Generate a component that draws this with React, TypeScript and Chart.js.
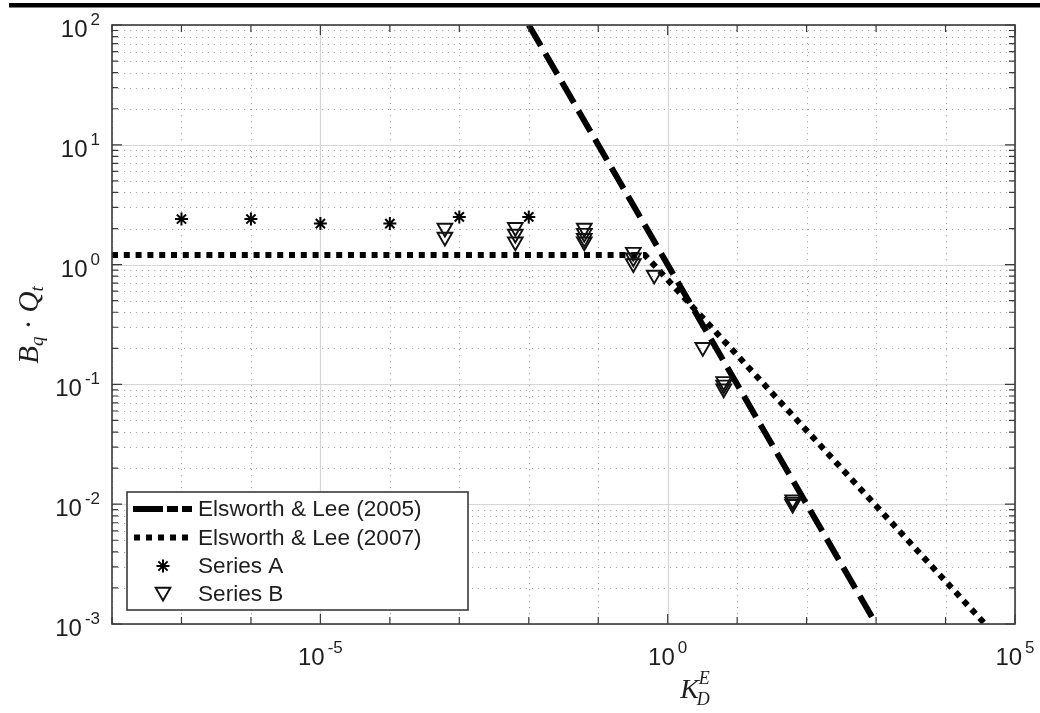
import React, { useEffect, useRef } from 'react';
import { Chart, registerables } from 'chart.js';

Chart.register(...registerables);

const W = 1040;
const H = 713;

// Axis ranges and ticks
const xMin = 1e-8;
const xMax = 1e5;
const yMin = 1e-3;
const yMax = 1e2;
const xLabeledExps = [-5, 0, 5];
const xDecadeExps = [-8, -7, -6, -5, -4, -3, -2, -1, 0, 1, 2, 3, 4, 5];
const yDecadeExps = [-3, -2, -1, 0, 1, 2];
const yMinorMults = [2, 3, 4, 5, 6, 7, 8, 9];

const legendLabels = ['Elsworth & Lee (2005)', 'Elsworth & Lee (2007)', 'Series A', 'Series B'];

// Elsworth & Lee (2005)
const lee2005X = [1e-2, 1e3];
const lee2005Y = [1e2, 1e-3];
// Elsworth & Lee (2007)
const lee2007X = [1e-8, 0.47, 3.7e4];
const lee2007Y = [1.2, 1.2, 1e-3];
// Series A
const seriesAX = [1e-7, 1e-6, 1e-5, 1e-4, 1e-3, 1e-2];
const seriesAY = [2.4, 2.4, 2.2, 2.2, 2.5, 2.5];
// Series B
const seriesBX = [6.2e-4, 6.2e-4, 6.4e-3, 6.4e-3, 6.4e-3, 0.063, 0.063, 0.063, 0.063, 0.32, 0.32, 0.32, 0.64, 3.2, 6.4, 6.4, 6.4, 63, 63, 63];
const seriesBY = [2.02, 1.7, 2.05, 1.8, 1.55, 2.02, 1.83, 1.66, 1.55, 1.27, 1.14, 1.02, 0.82, 0.204, 0.106, 0.099, 0.092, 0.0109, 0.0104, 0.01];

const SANS = '"Liberation Sans", Arial, Helvetica, sans-serif';
const SERIF = '"Liberation Serif", "Times New Roman", serif';
const TEXT = '#1e1e1e';
const TICK_FONT = 24;
const EXP_FONT = 17;
const EXP_GAP = 3;

const toXY = (xs: number[], ys: number[]) => xs.map((x, i) => ({ x, y: ys[i] }));

function drawPow(ctx: CanvasRenderingContext2D, exp: string, ax: number, baseY: number, expY: number, align: 'center' | 'right') {
  ctx.font = `${TICK_FONT}px ${SANS}`;
  const w1 = ctx.measureText('10').width;
  ctx.font = `${EXP_FONT}px ${SANS}`;
  const w2 = ctx.measureText(exp).width;
  const total = w1 + EXP_GAP + w2;
  const x0 = align === 'center' ? ax - total / 2 : ax - total;
  ctx.textAlign = 'left';
  ctx.textBaseline = 'alphabetic';
  ctx.fillStyle = TEXT;
  ctx.font = `${TICK_FONT}px ${SANS}`;
  ctx.fillText('10', x0, baseY);
  ctx.font = `${EXP_FONT}px ${SANS}`;
  ctx.fillText(exp, x0 + w1 + EXP_GAP, expY);
}

const decorPlugin = {
  id: 'decor',
  beforeDraw(chart: any) {
    const ctx = chart.ctx as CanvasRenderingContext2D;
    ctx.save();
    ctx.fillStyle = '#fff';
    ctx.fillRect(0, 0, chart.width, chart.height);
    ctx.fillStyle = '#000';
    ctx.fillRect(9, 3, chart.width - 9, 4.5);
    ctx.restore();
  },
  beforeDatasetsDraw(chart: any) {
    const ctx = chart.ctx as CanvasRenderingContext2D;
    const { left, right, top, bottom } = chart.chartArea;
    const xs = chart.scales.x;
    const ys = chart.scales.y;
    ctx.save();
    // minor dotted grid
    ctx.strokeStyle = 'rgba(0,0,0,0.33)';
    ctx.lineWidth = 1;
    ctx.setLineDash([1.2, 4.8]);
    ctx.beginPath();
    for (const e of yDecadeExps) {
      for (const m of yMinorMults) {
        const v = m * Math.pow(10, e);
        if (v >= yMax) continue;
        const py = Math.round(ys.getPixelForValue(v)) + 0.5;
        ctx.moveTo(left, py);
        ctx.lineTo(right, py);
      }
    }
    for (const e of xDecadeExps) {
      if (xLabeledExps.includes(e)) continue;
      const px = Math.round(xs.getPixelForValue(Math.pow(10, e))) + 0.5;
      ctx.moveTo(px, top);
      ctx.lineTo(px, bottom);
    }
    ctx.stroke();
    // major solid grid
    ctx.setLineDash([]);
    ctx.strokeStyle = '#d6d6d6';
    ctx.lineWidth = 1.2;
    ctx.beginPath();
    for (const e of yDecadeExps) {
      const py = Math.round(ys.getPixelForValue(Math.pow(10, e))) + 0.5;
      ctx.moveTo(left, py);
      ctx.lineTo(right, py);
    }
    for (const e of xLabeledExps) {
      const px = Math.round(xs.getPixelForValue(Math.pow(10, e))) + 0.5;
      ctx.moveTo(px, top);
      ctx.lineTo(px, bottom);
    }
    ctx.stroke();
    ctx.restore();
  },
  afterDatasetsDraw(chart: any) {
    const ctx = chart.ctx as CanvasRenderingContext2D;
    const { left, right, top, bottom } = chart.chartArea;
    const xs = chart.scales.x;
    const ys = chart.scales.y;
    ctx.save();
    // axis box
    ctx.strokeStyle = '#3a3a3a';
    ctx.lineWidth = 1.6;
    ctx.strokeRect(left, top, right - left, bottom - top);
    // ticks
    ctx.lineWidth = 1.2;
    ctx.beginPath();
    for (const e of xDecadeExps) {
      const px = xs.getPixelForValue(Math.pow(10, e));
      const len = xLabeledExps.includes(e) ? 10 : 7;
      ctx.moveTo(px, bottom);
      ctx.lineTo(px, bottom - len);
      ctx.moveTo(px, top);
      ctx.lineTo(px, top + len);
    }
    for (const e of yDecadeExps) {
      const py = ys.getPixelForValue(Math.pow(10, e));
      ctx.moveTo(left, py);
      ctx.lineTo(left + 10, py);
      ctx.moveTo(right, py);
      ctx.lineTo(right - 10, py);
      for (const m of yMinorMults) {
        const v = m * Math.pow(10, e);
        if (v >= yMax) continue;
        const pm = ys.getPixelForValue(v);
        ctx.moveTo(left, pm);
        ctx.lineTo(left + 6, pm);
        ctx.moveTo(right, pm);
        ctx.lineTo(right - 6, pm);
      }
    }
    ctx.stroke();

    // tick labels
    for (const e of xLabeledExps) {
      const px = xs.getPixelForValue(Math.pow(10, e));
      drawPow(ctx, String(e), px, bottom + 41, bottom + 29, 'center');
    }
    for (const e of yDecadeExps) {
      const py = ys.getPixelForValue(Math.pow(10, e));
      drawPow(ctx, String(e), 100, py + 12, py + 0, 'right');
    }

    // x-axis title K_D^E
    ctx.fillStyle = TEXT;
    ctx.textBaseline = 'alphabetic';
    ctx.textAlign = 'left';
    ctx.font = `italic 28px ${SERIF}`;
    const wK = ctx.measureText('K').width;
    ctx.font = `italic 18px ${SERIF}`;
    const wD = ctx.measureText('D').width;
    const wE = ctx.measureText('E').width;
    const xt = 696 - (wK + Math.max(wD, wE)) / 2;
    ctx.font = `italic 28px ${SERIF}`;
    ctx.fillText('K', xt, 698);
    ctx.font = `italic 18px ${SERIF}`;
    ctx.fillText('E', xt + wK, 684);
    ctx.fillText('D', xt + wK - 2, 705);

    // y-axis title B_q · Q_t
    ctx.save();
    ctx.translate(38, 325);
    ctx.rotate(-Math.PI / 2);
    const parts: [string, string, number][] = [
      ['B', `italic 29px ${SERIF}`, 0],
      ['q', `italic 19px ${SERIF}`, 5],
      [' · ', `29px ${SERIF}`, 0],
      ['Q', `italic 29px ${SERIF}`, 0],
      ['t', `italic 19px ${SERIF}`, 5],
    ];
    let tw = 0;
    for (const [t, f] of parts) { ctx.font = f; tw += ctx.measureText(t).width; }
    let cx = -tw / 2;
    for (const [t, f, dy] of parts) {
      ctx.font = f;
      ctx.fillText(t, cx, dy);
      cx += ctx.measureText(t).width;
    }
    ctx.restore();

    // legend
    const bx = 127, by = 492, bw = 341, bh = 118;
    ctx.fillStyle = '#fff';
    ctx.fillRect(bx, by, bw, bh);
    ctx.strokeStyle = '#3a3a3a';
    ctx.lineWidth = 1.6;
    ctx.strokeRect(bx, by, bw, bh);
    const rows = [509, 537.5, 566, 594];
    ctx.font = `22.6px ${SANS}`;
    ctx.fillStyle = TEXT;
    ctx.textBaseline = 'middle';
    legendLabels.forEach((lab, i) => ctx.fillText(lab, 198, rows[i] + 1));
    // line samples
    ctx.strokeStyle = '#000';
    ctx.lineWidth = 6;
    ctx.lineCap = 'butt';
    ctx.setLineDash([30, 4, 11, 4, 11, 60]);
    ctx.beginPath();
    ctx.moveTo(133, rows[0]);
    ctx.lineTo(192, rows[0]);
    ctx.stroke();
    ctx.lineWidth = 6;
    ctx.setLineDash([6, 6]);
    ctx.beginPath();
    ctx.moveTo(134, rows[1]);
    ctx.lineTo(192, rows[1]);
    ctx.stroke();
    ctx.setLineDash([]);
    // star marker
    const sx = 163, sr = 6.5;
    ctx.lineWidth = 2;
    ctx.beginPath();
    ctx.moveTo(sx - sr, rows[2]); ctx.lineTo(sx + sr, rows[2]);
    ctx.moveTo(sx, rows[2] - sr); ctx.lineTo(sx, rows[2] + sr);
    const d = sr * Math.SQRT1_2;
    ctx.moveTo(sx - d, rows[2] - d); ctx.lineTo(sx + d, rows[2] + d);
    ctx.moveTo(sx - d, rows[2] + d); ctx.lineTo(sx + d, rows[2] - d);
    ctx.stroke();
    // triangle marker
    const tr = 8.5;
    const ty = rows[3] - 2;
    ctx.strokeStyle = '#111';
    ctx.lineWidth = 1.9;
    ctx.beginPath();
    ctx.moveTo(sx, ty + tr);
    ctx.lineTo(sx - tr * Math.sin(Math.PI / 3), ty - tr / 2);
    ctx.lineTo(sx + tr * Math.sin(Math.PI / 3), ty - tr / 2);
    ctx.closePath();
    ctx.stroke();

    ctx.restore();
  },
};

export default function App() {
  const canvasRef = useRef<HTMLCanvasElement | null>(null);

  useEffect(() => {
    const canvas = canvasRef.current;
    if (!canvas) return;
    const chart = new Chart(canvas, {
      type: 'scatter',
      data: {
        datasets: [
          {
            label: legendLabels[0],
            data: toXY(lee2005X, lee2005Y),
            showLine: true,
            borderColor: '#000',
            borderWidth: 6,
            borderDash: [24, 9],
            borderCapStyle: 'butt',
            pointRadius: 0,
            order: 2,
            clip: 0,
          },
          {
            label: legendLabels[1],
            data: toXY(lee2007X, lee2007Y),
            showLine: true,
            borderColor: '#000',
            borderWidth: 6,
            borderDash: [6, 5.8],
            borderCapStyle: 'butt',
            pointRadius: 0,
            order: 2,
            clip: 0,
          },
          {
            label: legendLabels[2],
            data: toXY(seriesAX, seriesAY),
            showLine: false,
            pointStyle: 'star',
            pointRadius: 6.5,
            pointBorderColor: '#000',
            pointBackgroundColor: '#000',
            pointBorderWidth: 2,
            order: 1,
          },
          {
            label: legendLabels[3],
            data: toXY(seriesBX, seriesBY),
            showLine: false,
            pointStyle: 'triangle',
            pointRotation: 180,
            pointRadius: 8.5,
            pointBorderColor: '#111',
            pointBackgroundColor: 'rgba(0,0,0,0)',
            pointBorderWidth: 1.9,
            order: 1,
          },
        ],
      } as any,
      options: {
        animation: false,
        responsive: true,
        maintainAspectRatio: false,
        events: [],
        layout: { padding: { left: 0, right: 25, top: 25, bottom: 0 } },
        plugins: { legend: { display: false }, tooltip: { enabled: false } },
        scales: {
          x: {
            type: 'logarithmic',
            min: xMin,
            max: xMax,
            grid: { display: false },
            border: { display: false },
            ticks: { display: false },
            afterFit: (s: any) => { s.height = 89; },
          },
          y: {
            type: 'logarithmic',
            min: yMin,
            max: yMax,
            grid: { display: false },
            border: { display: false },
            ticks: { display: false },
            afterFit: (s: any) => { s.width = 112; },
          },
        },
      } as any,
      plugins: [decorPlugin],
    });
    return () => chart.destroy();
  }, []);

  return (
    <div style={{ position: 'fixed', left: 0, top: 0, width: W, height: H, background: '#fff' }}>
      <canvas ref={canvasRef} />
    </div>
  );
}
